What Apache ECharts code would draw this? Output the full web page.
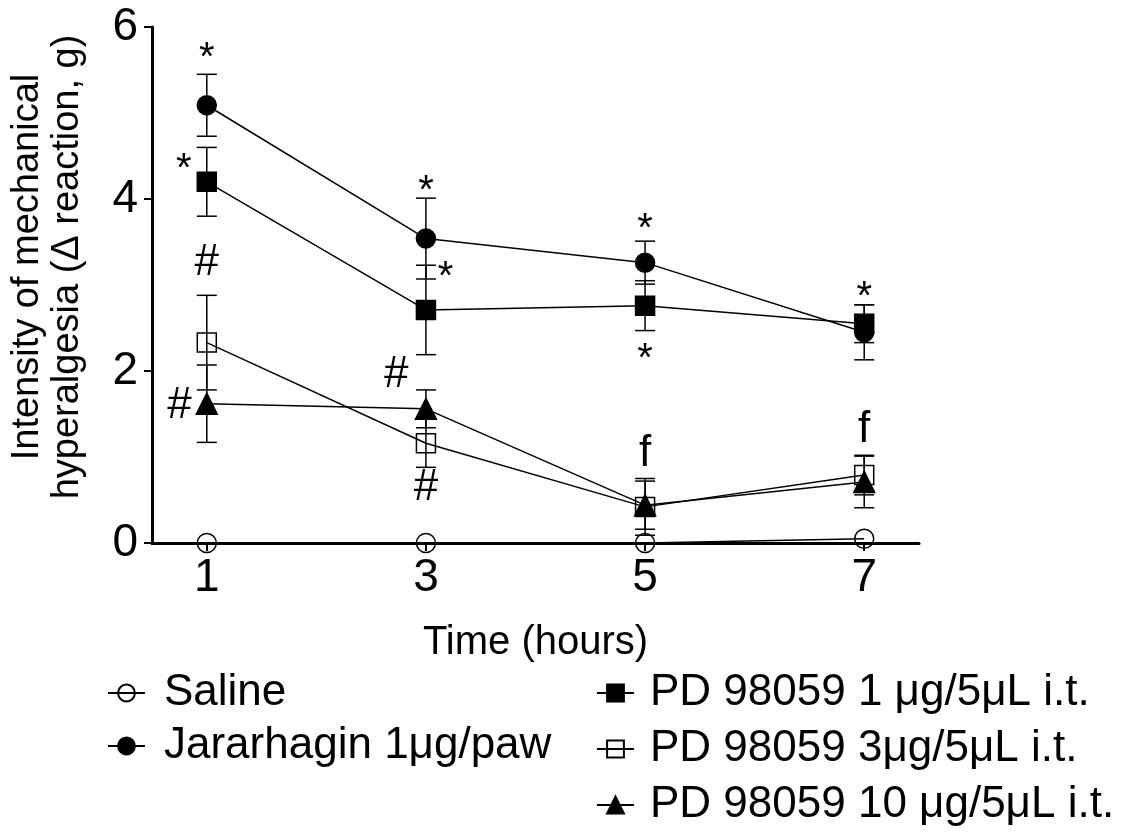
<!DOCTYPE html>
<html>
<head>
<meta charset="utf-8">
<script src="https://cdn.jsdelivr.net/npm/echarts@6/dist/echarts.min.js"></script>
<style>
  html, body { margin: 0; background: #fff; }
  #main { width: 1127px; height: 832px; }
</style>
</head>
<body>
<div id="main"></div>
<script>
const hours = [1, 3, 5, 7];
const xTicks = [1, 3, 5, 7];
const yTicks = [0, 2, 4, 6];

const names = [
  'Saline',
  'Jararhagin 1μg/paw',
  'PD 98059 1 μg/5μL i.t.',
  'PD 98059 3μg/5μL i.t.',
  'PD 98059 10 μg/5μL i.t.'
];

// means and SEM
const saline = [0, 0, 0, 0.05];
const salineSem = [0, 0, 0, 0];
const jararhagin = [5.09, 3.54, 3.26, 2.45];
const jararhaginSem = [0.36, 0.47, 0.25, 0.32];
const pd1 = [4.20, 2.71, 2.76, 2.55];
const pd1Sem = [0.40, 0.52, 0.29, 0.22];
const pd3 = [2.33, 1.16, 0.42, 0.79];
const pd3Sem = [0.55, 0.28, 0.33, 0.23];
const pd10 = [1.62, 1.56, 0.44, 0.71];
const pd10Sem = [0.45, 0.22, 0.28, 0.30];

// significance marks
const annX = [1, 0.79, 3, 3.18, 5, 5, 7, 1, 0.75, 2.73, 3, 5, 7];
const annY = [5.73, 4.45, 4.19, 3.19, 3.75, 2.24, 2.96, 3.26, 1.60, 1.95, 0.64, 1.04, 1.31];
const annText = ['*', '*', '*', '*', '*', '*', '*', '#', '#', '#', '#', 'f', 'f'];

const FONT = '"Liberation Sans", Arial, sans-serif';

let myChart = echarts.init(document.getElementById('main'));

const groups = [
  { name: names[0], mean: saline, sem: salineSem, symbol: 'circle', fill: 'transparent' },
  { name: names[1], mean: jararhagin, sem: jararhaginSem, symbol: 'circle', fill: '#000' },
  { name: names[2], mean: pd1, sem: pd1Sem, symbol: 'rect', fill: '#000' },
  { name: names[3], mean: pd3, sem: pd3Sem, symbol: 'rect', fill: 'transparent' },
  { name: names[4], mean: pd10, sem: pd10Sem, symbol: 'triangle', fill: '#000' }
];

let errData = [];
groups.forEach(g => {
  hours.forEach((h, i) => {
    if (g.sem[i] > 0) errData.push([h, g.mean[i] - g.sem[i], g.mean[i] + g.sem[i]]);
  });
});

let lineSeries = groups.map(g => ({
  name: g.name,
  type: 'line',
  data: hours.map((h, i) => [h, g.mean[i]]),
  symbol: g.symbol,
  symbolSize: g.symbol === 'triangle' ? 21 : 19,
  lineStyle: { color: '#000', width: 1.5 },
  itemStyle: { color: g.fill, borderColor: '#000', borderWidth: 1.5 },
  z: 3
}));

const legendText = { fontSize: 44, lineHeight: 44, color: '#000', fontFamily: FONT };

let option = {
  animation: false,
  grid: { left: 147, right: 208, top: 27, bottom: 289 },
  xAxis: {
    type: 'value',
    min: 0.5,
    max: 7.5,
    splitLine: { show: false },
    axisLine: { lineStyle: { color: '#000', width: 3 } },
    axisTick: { customValues: xTicks, length: 8, lineStyle: { color: '#000', width: 2 } },
    axisLabel: { customValues: xTicks, fontSize: 46, color: '#000', fontFamily: FONT, margin: 12 },
    name: 'Time (hours)',
    nameLocation: 'middle',
    nameGap: 80,
    nameTextStyle: { fontSize: 40, color: '#000', fontFamily: FONT }
  },
  yAxis: {
    type: 'value',
    min: 0,
    max: 6,
    interval: 2,
    splitLine: { show: false },
    axisLine: { show: true, lineStyle: { color: '#000', width: 3 } },
    axisTick: { show: true, length: 8, lineStyle: { color: '#000', width: 2 } },
    axisLabel: { fontSize: 46, color: '#000', fontFamily: FONT, margin: 14 },
    name: 'Intensity of mechanical\nhyperalgesia (Δ reaction, g)',
    nameLocation: 'middle',
    nameRotate: 90,
    nameGap: 64,
    nameTextStyle: { fontSize: 38, lineHeight: 40, color: '#000', fontFamily: FONT, padding: [0, 0, 0, 36] }
  },
  legend: [
    {
      data: names.slice(0, 2),
      orient: 'vertical',
      left: 107,
      top: 671,
      padding: 0,
      itemWidth: 37,
      itemHeight: 21,
      itemGap: 9,
      textStyle: Object.assign({ padding: [0, 0, 0, 14] }, legendText)
    },
    {
      data: names.slice(2),
      orient: 'vertical',
      left: 596,
      top: 671,
      height: 161,
      padding: 0,
      itemWidth: 37,
      itemHeight: 21,
      itemGap: 12,
      textStyle: Object.assign({ padding: [0, 0, 0, 11] }, legendText)
    }
  ],
  series: lineSeries.concat([
    {
      type: 'custom',
      name: 'sem',
      data: errData,
      z: 2,
      renderItem: function (params, api) {
        const x = api.value(0);
        const lo = api.coord([x, api.value(1)]);
        const hi = api.coord([x, api.value(2)]);
        const w = 10;
        const st = { stroke: '#000', lineWidth: 1.5 };
        return {
          type: 'group',
          children: [
            { type: 'line', shape: { x1: lo[0], y1: lo[1], x2: hi[0], y2: hi[1] }, style: st },
            { type: 'line', shape: { x1: hi[0] - w, y1: hi[1], x2: hi[0] + w, y2: hi[1] }, style: st },
            { type: 'line', shape: { x1: lo[0] - w, y1: lo[1], x2: lo[0] + w, y2: lo[1] }, style: st }
          ]
        };
      }
    },
    {
      type: 'custom',
      name: 'marks',
      data: annX.map((x, i) => [x, annY[i], annText[i]]),
      z: 4,
      renderItem: function (params, api) {
        const p = api.coord([api.value(0), api.value(1)]);
        const t = annText[params.dataIndex];
        const size = t === '*' ? 40 : 44;
        return {
          type: 'text',
          x: p[0],
          y: p[1] + (t === '*' ? size * 0.23 : 0),
          style: {
            text: t,
            fill: '#000',
            font: size + 'px ' + FONT,
            textAlign: 'center',
            textVerticalAlign: 'middle'
          }
        };
      }
    }
  ])
};

myChart.setOption(option);
</script>
</body>
</html>
